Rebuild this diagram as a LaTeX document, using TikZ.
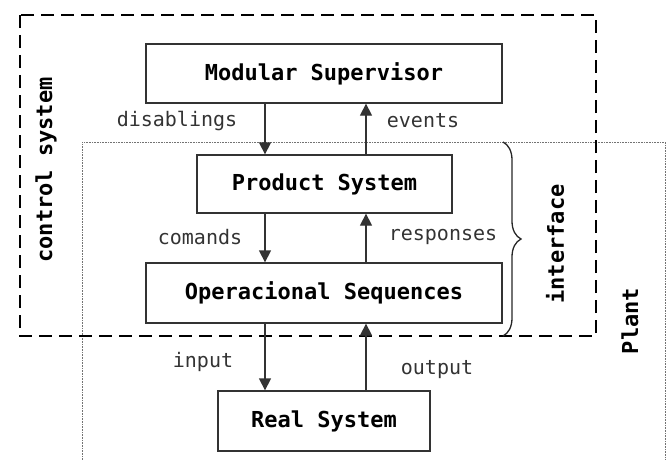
\documentclass[tikz,border=0pt]{standalone}
\usepackage{fontspec}
\setmonofont{DejaVu Sans Mono}
\usetikzlibrary{arrows.meta,decorations.pathreplacing}
\begin{document}
\begin{tikzpicture}[x=1pt,y=-1pt,
  blk/.style={draw=black!80,line width=1.3pt,rectangle,inner sep=0pt,font=\ttfamily\bfseries\fontsize{22}{26}\selectfont},
  lbl/.style={font=\ttfamily\fontsize{20}{24}\selectfont,text=black!80,inner sep=0pt},
  side/.style={font=\ttfamily\bfseries\fontsize{22}{26}\selectfont,rotate=90,inner sep=0pt},
  arr/.style={draw=black!80,line width=1.3pt,-{Triangle[length=12pt,width=12pt]}},
  ctrl/.style={line width=2.6pt,dash pattern=on 13pt off 7pt},
  plantbox/.style={draw=black!55,line width=0.8pt,dash pattern=on 0.8pt off 0.8pt}]
\useasboundingbox (0,0) rectangle (672,460);
% plant (dotted) region
\draw[plantbox] (82,460) -- (82,142) -- (665,142) -- (665,460);
% control system (dashed) region
\draw[ctrl] (20,15) rectangle (596,336);
% blocks
\node[blk,minimum width=356pt,minimum height=59pt] (ms) at (324,73.5) {Modular Supervisor};
\node[blk,minimum width=255pt,minimum height=58pt] (ps) at (324.5,184) {Product System};
\node[blk,minimum width=356pt,minimum height=60pt] (os) at (324,293) {Operacional Sequences};
\node[blk,minimum width=212pt,minimum height=60pt] (rs) at (324,421) {Real System};
\coordinate (xl) at (265,0);
\coordinate (xr) at (366,0);
% arrows
\draw[arr] (ms.south -| xl) -- (ps.north -| xl);
\draw[arr] (ps.north -| xr) -- (ms.south -| xr);
\draw[arr] (ps.south -| xl) -- (os.north -| xl);
\draw[arr] (os.north -| xr) -- (ps.south -| xr);
\draw[arr] (os.south -| xl) -- (rs.north -| xl);
\draw[arr] (rs.north -| xr) -- (os.south -| xr);
% labels
\node[lbl] (l1) at (177,121) {disablings};
\node[lbl] (l2) at (423,121) {events};
\node[lbl] (l3) at (200,237) {comands};
\node[lbl] (l4) at (443,237) {responses};
\node[lbl] (l5) at (203,362) {input};
\node[lbl] (l6) at (437,370) {output};
% brace
\draw[draw=black!85,line width=1.3pt,decorate,decoration={brace,amplitude=18pt}] (503,142) -- (503,336);
% side labels
\node[side] (cs) at (46,170) {control system};
\node[side] (ifc) at (555,244) {interface};
\node[side] (pl) at (630,321) {Plant};
\end{tikzpicture}
\end{document}
